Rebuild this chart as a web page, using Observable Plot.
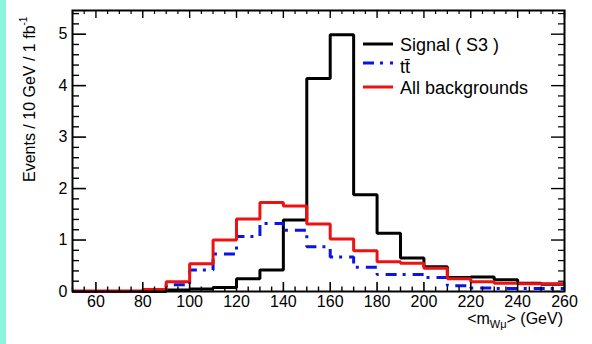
<!DOCTYPE html>
<html><head><meta charset="utf-8">
<script src="https://cdn.jsdelivr.net/npm/d3@7"></script>
<script src="https://cdn.jsdelivr.net/npm/@observablehq/plot@0.6"></script>
<style>
html,body{margin:0;padding:0;background:#fff;}
#wrap{position:relative;width:592px;height:344px;overflow:hidden;}
#strip{position:absolute;left:0;top:0;width:6px;height:344px;background:#8cf5dc;z-index:2;}
svg{display:block;}
</style></head><body><div id="wrap"></div>
<script>
// bin lower edges (GeV), 10 GeV bins
const binLow = [50,60,70,80,90,100,110,120,130,140,150,160,170,180,190,200,210,220,230,240,250];
const binWidth = 10;
const signal = [0,0,0,0,0.03,0.05,0.08,0.25,0.42,1.39,4.14,4.99,1.88,1.13,0.65,0.48,0.27,0.28,0.23,0.16,0.14];
const ttbar  = [0,0,0,0.02,0.13,0.42,0.73,1.07,1.32,1.19,0.87,0.67,0.47,0.33,0.33,0.27,0.11,0.07,0.06,0.06,0.06];
const allBkg = [0.01,0.01,0.01,0.04,0.19,0.54,1.0,1.41,1.73,1.66,1.31,1.02,0.79,0.58,0.55,0.45,0.25,0.19,0.16,0.15,0.15];
const xTicks = [60,80,100,120,140,160,180,200,220,240,260];
const yTicks = [0,1,2,3,4,5];
const legendLabels = ["Signal ( S3 )", "tt\u0304", "All backgrounds"];

const W = 592, H = 344, mL = 72, mR = 28, mT = 10, mB = 53;
const innerW = W - mL - mR, innerH = H - mT - mB;

function steps(vals) {
  const pts = vals.map((v, i) => ({x: binLow[i], y: v}));
  pts.push({x: binLow[binLow.length - 1] + binWidth, y: vals[vals.length - 1]});
  return pts;
}
const xMinor = d3.range(50, 261, 5).filter(v => v % 20 !== 0);
const yMinor = d3.range(0, 5.45, 0.2).filter(v => Math.abs(v - Math.round(v)) > 1e-6);

const dash = "11,6,3,7";
const plot = Plot.plot({
  width: W, height: H,
  marginLeft: mL, marginRight: mR, marginTop: mT, marginBottom: mB,
  style: {fontFamily: "'Liberation Sans', Arial, Helvetica, sans-serif", background: "transparent", color: "black"},
  x: {domain: [50, 260]},
  y: {domain: [0, 5.46]},
  marks: [
    Plot.line(steps(signal), {x: "x", y: "y", curve: "step-after", stroke: "black", strokeWidth: 3, strokeLinejoin: "miter", strokeLinecap: "butt"}),
    Plot.line(steps(ttbar), {x: "x", y: "y", curve: "step-after", stroke: "#0a14e6", strokeWidth: 3, strokeDasharray: dash, strokeLinejoin: "miter", strokeLinecap: "butt"}),
    Plot.line(steps(allBkg), {x: "x", y: "y", curve: "step-after", stroke: "#ee1111", strokeWidth: 3, strokeLinejoin: "miter", strokeLinecap: "butt"}),
    // inward ticks: bottom & top
    Plot.ruleX(xTicks, {x: d => d, insetTop: innerH - 9, strokeWidth: 1.6}),
    Plot.ruleX(xMinor, {x: d => d, insetTop: innerH - 4.5, strokeWidth: 1.4}),
    Plot.ruleX(xTicks, {x: d => d, insetBottom: innerH - 8, strokeWidth: 1.4}),
    Plot.ruleX(xMinor, {x: d => d, insetBottom: innerH - 4, strokeWidth: 1.2}),
    // inward ticks: left & right
    Plot.ruleY(yTicks, {y: d => d, insetRight: innerW - 14, strokeWidth: 1.6}),
    Plot.ruleY(yMinor, {y: d => d, insetRight: innerW - 7, strokeWidth: 1.4}),
    Plot.ruleY(yTicks, {y: d => d, insetLeft: innerW - 13, strokeWidth: 1.4}),
    Plot.ruleY(yMinor, {y: d => d, insetLeft: innerW - 6, strokeWidth: 1.2}),
    Plot.frame({stroke: "black", strokeWidth: 2}),
    Plot.axisX(xTicks, {anchor: "bottom", tickSize: 0, tickPadding: 4, fontSize: 16, label: null, tickFormat: d3.format("d")}),
    Plot.axisY(yTicks, {anchor: "left", tickSize: 0, tickPadding: 5, fontSize: 16, label: null, tickFormat: d3.format("d")})
  ]
});
const wrap = document.getElementById("wrap");
wrap.appendChild(plot);
const strip = document.createElement("div"); strip.id = "strip"; wrap.appendChild(strip);

const svg = d3.select(plot);
const ff = "'Liberation Sans', Arial, Helvetica, sans-serif";
// y title
const yt = svg.append("text").attr("transform", "translate(34.5,182) rotate(-90)")
  .attr("text-anchor", "start")
  .attr("font-family", ff).attr("font-size", 16).attr("fill", "black");
yt.append("tspan").text("Events / 10 GeV / 1 fb");
yt.append("tspan").attr("font-size", 10).attr("dy", -8).text("-1");
// x title
const xt = svg.append("text").attr("x", 563).attr("y", 324).attr("text-anchor", "end")
  .attr("font-family", ff).attr("font-size", 16).attr("fill", "black");
xt.append("tspan").text("<m");
xt.append("tspan").attr("font-size", 11).attr("dy", 4).text("W\u03bc");
xt.append("tspan").attr("dy", -4).text("> (GeV)");
// legend
const leg = [
  {label: legendLabels[0], color: "black", dash: null, ly: 44, ty: 51},
  {label: legendLabels[1], color: "#0a14e6", dash: dash, ly: 63, ty: 73},
  {label: legendLabels[2], color: "#ee1111", dash: null, ly: 87, ty: 94}
];
leg.forEach(d => {
  svg.append("line").attr("x1", 363).attr("x2", 393).attr("y1", d.ly).attr("y2", d.ly)
    .attr("stroke", d.color).attr("stroke-width", 3).attr("stroke-dasharray", d.dash);
  svg.append("text").attr("x", 400).attr("y", d.ty).attr("text-anchor", "start").attr("font-family", ff)
    .attr("font-size", 18).attr("fill", "black").text(d.label);
});
</script></body></html>
